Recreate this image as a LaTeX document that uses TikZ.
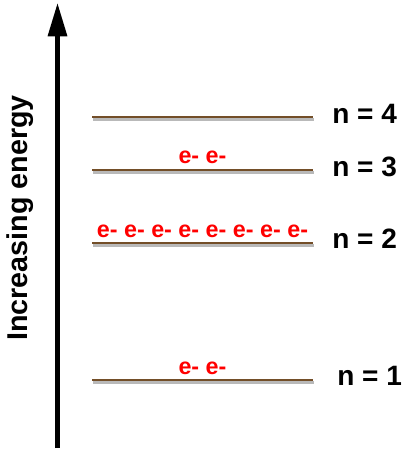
\documentclass[tikz,border=0pt]{standalone}
\usepackage{fontspec}
\setmainfont{Liberation Sans}
\usetikzlibrary{arrows.meta}
\definecolor{levelbrown}{RGB}{115,78,40}
\definecolor{shadowgray}{RGB}{185,185,185}
\tikzset{
  levelline/.style={levelbrown, line width=2.2pt},
  levelshadow/.style={shadowgray, line width=1.8pt},
  nlabel/.style={anchor=base west, inner sep=0pt, font=\bfseries\fontsize{21}{24}\selectfont},
  electrons/.style={anchor=base, inner sep=0pt, text=red, font=\bfseries\fontsize{17.5}{20}\selectfont},
}
\begin{document}
\begin{tikzpicture}[x=0.75pt, y=-0.75pt]
\useasboundingbox (0,0) rectangle (406,457);
% energy axis
\coordinate (axisbot) at (57.5,448);
\coordinate (axistop) at (57.5,3);
\draw[line width=3.3pt, -{Triangle[length=25pt,width=14pt]}] (axisbot) -- (axistop);
\node[rotate=90, inner sep=0pt, font=\bfseries\fontsize{21.5}{24}\selectfont] (axislabel) at (20,218) {Increasing energy};
% levels
\foreach \nm/\yy in {l4/117, l3/170, l2/243, l1/380}{
  \coordinate (\nm w) at (92,\yy);
  \coordinate (\nm e) at (313,\yy);
  \draw[levelshadow] ([xshift=1pt,yshift=-1.9pt]\nm w) -- ([xshift=1pt,yshift=-1.9pt]\nm e);
  \draw[levelline] (\nm w) -- (\nm e);
}
% labels
\node[nlabel] (n4) at (332,123) {n = 4};
\node[nlabel] (n3) at (332,176) {n = 3};
\node[nlabel] (n2) at (332,248) {n = 2};
\node[nlabel] (n1) at (337,385) {n = 1};
% electrons
\node[electrons] (e3) at (202.5,163) {e- e-};
\node[electrons] (e2) at (202.5,237) {e- e- e- e- e- e- e- e-};
\node[electrons] (e1) at (202.5,374) {e- e-};
\end{tikzpicture}
\end{document}
